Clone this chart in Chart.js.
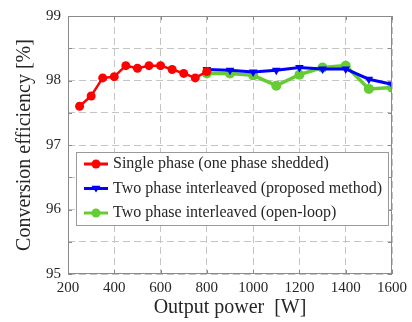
<!DOCTYPE html>
<html>
<head>
<meta charset="utf-8">
<script src="https://cdn.jsdelivr.net/npm/chart.js@4/dist/chart.umd.min.js"></script>
<style>
  html, body { margin: 0; padding: 0; background: #fff; }
  canvas { display: block; }
</style>
</head>
<body>
<canvas id="effChart" width="412" height="322"></canvas>
<script>
// data
const singlePower = [250, 300, 350, 400, 450, 500, 550, 600, 650, 700, 750, 800];
const singleEff = [97.6, 97.76, 98.04, 98.06, 98.23, 98.19, 98.23, 98.23, 98.17, 98.11, 98.04, 98.14];
const twoPower = [800, 900, 1000, 1100, 1200, 1300, 1400, 1500, 1600];
const proposedEff = [98.17, 98.16, 98.13, 98.16, 98.2, 98.18, 98.18, 98.02, 97.94];
const openLoopEff = [98.11, 98.11, 98.08, 97.92, 98.09, 98.2, 98.23, 97.87, 97.89];
const seriesNames = [
  'Single phase (one phase shedded)',
  'Two phase interleaved (proposed method)',
  'Two phase interleaved (open-loop)'
];
const xTitle = 'Output power  [W]';
const yTitle = 'Conversion efficiency [%]';

const serif = "'Liberation Serif', 'Times New Roman', serif";
const textColor = '#262626';
const gridColor = '#c4c4c4';
const frameColor = '#8a8a8a';

function toPoints(xs, ys) {
  return xs.map((x, i) => ({ x: x, y: ys[i] }));
}

// draw a marker (circle or down triangle)
function marker(ctx, style, x, y, r, color) {
  ctx.save();
  ctx.fillStyle = color;
  ctx.beginPath();
  if (style === 'triangle') {
    ctx.moveTo(x - r, y - r * 0.6);
    ctx.lineTo(x + r, y - r * 0.6);
    ctx.lineTo(x, y + r * 0.9);
    ctx.closePath();
  } else {
    ctx.arc(x, y, r, 0, Math.PI * 2);
  }
  ctx.fill();
  ctx.restore();
}

// frame, inward ticks and legend box
const framePlugin = {
  id: 'framePlugin',
  afterDraw(chart) {
    const ctx = chart.ctx;
    const a = chart.chartArea;
    const xs = chart.scales.x;
    const ys = chart.scales.y;
    ctx.save();
    ctx.strokeStyle = frameColor;
    ctx.lineWidth = 1;
    ctx.setLineDash([]);
    ctx.strokeRect(a.left + 0.5, a.top + 0.5, a.right - a.left - 1, a.bottom - a.top - 1);
    // tick marks pointing in
    ctx.beginPath();
    xs.ticks.forEach(t => {
      const px = Math.round(xs.getPixelForValue(t.value)) + 0.5;
      ctx.moveTo(px, a.bottom); ctx.lineTo(px, a.bottom - 4);
      ctx.moveTo(px, a.top); ctx.lineTo(px, a.top + 4);
    });
    ys.ticks.forEach(t => {
      const py = Math.round(ys.getPixelForValue(t.value)) + 0.5;
      ctx.moveTo(a.left, py); ctx.lineTo(a.left + 4, py);
      ctx.moveTo(a.right, py); ctx.lineTo(a.right - 4, py);
    });
    ctx.stroke();

    // legend
    const bx = 76, by = 152, bw = 312, bh = 73;
    ctx.fillStyle = '#fff';
    ctx.fillRect(bx, by, bw, bh);
    ctx.strokeStyle = '#9a9a9a';
    ctx.strokeRect(bx + 0.5, by + 0.5, bw, bh);
    ctx.font = '16px ' + serif;
    ctx.textBaseline = 'middle';
    ctx.textAlign = 'left';
    chart.data.datasets.forEach((ds, i) => {
      const y = by + 12 + i * 24.5;
      ctx.strokeStyle = ds.borderColor;
      ctx.lineWidth = 3;
      ctx.beginPath();
      ctx.moveTo(bx + 8, y);
      ctx.lineTo(bx + 32, y);
      ctx.stroke();
      marker(ctx, ds.pointStyle === 'triangle' ? 'triangle' : 'circle', bx + 20, y, 4.5, ds.borderColor);
      ctx.fillStyle = textColor;
      ctx.fillText(ds.label, bx + 37, y);
    });
    ctx.restore();
  }
};

const ctx = document.getElementById('effChart').getContext('2d');
new Chart(ctx, {
  type: 'line',
  data: {
    datasets: [
      {
        label: seriesNames[0],
        data: toPoints(singlePower, singleEff),
        borderColor: '#ff0000',
        backgroundColor: '#ff0000',
        borderWidth: 2.5,
        pointStyle: 'circle',
        pointRadius: 4.5,
        pointBorderWidth: 0
      },
      {
        label: seriesNames[1],
        data: toPoints(twoPower, proposedEff),
        borderColor: '#0000ff',
        backgroundColor: '#0000ff',
        borderWidth: 3,
        pointStyle: 'triangle',
        rotation: 180,
        pointRadius: 5,
        pointBorderWidth: 0
      },
      {
        label: seriesNames[2],
        data: toPoints(twoPower, openLoopEff),
        borderColor: '#66cc33',
        backgroundColor: '#66cc33',
        borderWidth: 3.5,
        pointStyle: 'circle',
        pointRadius: 5,
        pointBorderWidth: 0
      }
    ]
  },
  options: {
    responsive: false,
    animation: false,
    devicePixelRatio: 1,
    layout: { padding: { top: 15, right: 18, left: 0, bottom: 0 } },
    plugins: {
      legend: { display: false },
      tooltip: { enabled: false }
    },
    scales: {
      x: {
        type: 'linear',
        min: 200,
        max: 1600,
        afterFit: s => { s.height = 48; },
        ticks: {
          stepSize: 200,
          padding: 5,
          color: textColor,
          font: { family: serif, size: 15 },
          callback: v => String(v)
        },
        grid: { color: gridColor, drawTicks: false },
        border: { display: false, dash: [7, 4] },
        title: {
          display: true,
          text: xTitle,
          color: textColor,
          font: { family: serif, size: 20 },
          padding: { top: 0, bottom: 2 }
        }
      },
      y: {
        min: 95,
        max: 99,
        afterFit: s => { s.width = 68; },
        ticks: {
          stepSize: 0.5,
          autoSkip: false,
          padding: 7,
          color: textColor,
          font: { family: serif, size: 15 },
          callback: v => (Number.isInteger(v) ? v : '')
        },
        grid: { color: gridColor, drawTicks: false },
        border: { display: false, dash: [7, 4] },
        title: {
          display: true,
          text: yTitle,
          color: textColor,
          font: { family: serif, size: 20 },
          padding: { top: 13, bottom: 0 }
        }
      }
    }
  },
  plugins: [framePlugin]
});
</script>
</body>
</html>
